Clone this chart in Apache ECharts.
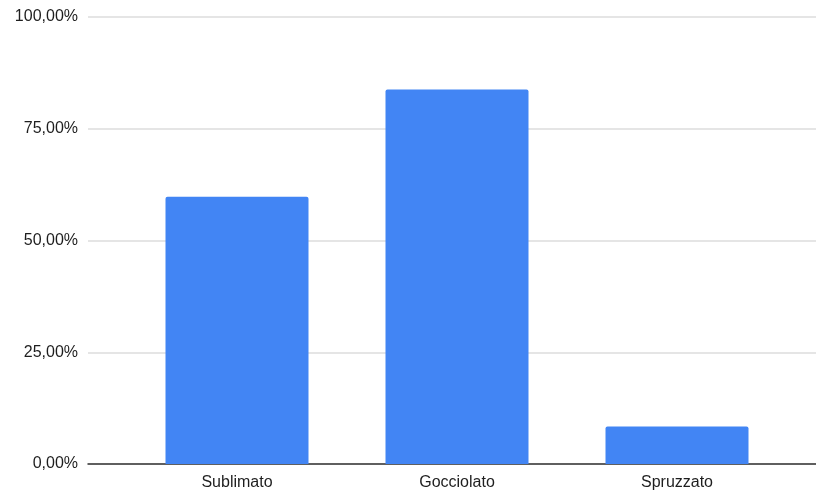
<!DOCTYPE html>
<html>
<head>
<meta charset="utf-8">
<style>
  html, body { margin: 0; padding: 0; background: #ffffff; }
  #chart { width: 816px; height: 492px; }
</style>
<script src="https://cdn.jsdelivr.net/npm/echarts@6/dist/echarts.min.js"></script>
</head>
<body>
<div id="chart"></div>
<script>
// Share of each technique, in percent
const categories = ['Sublimato', 'Gocciolato', 'Spruzzato'];
const values = [59.8, 83.8, 8.4];
const yTicks = [0, 25, 50, 75, 100];

const fmt = v => v.toFixed(2).replace('.', ',') + '%';
const font = 'Liberation Sans, Arial, Helvetica, sans-serif';

const chart = echarts.init(document.getElementById('chart'), null, { renderer: 'canvas' });

chart.setOption({
  backgroundColor: '#ffffff',
  animation: false,
  grid: [
    // frame: value labels, gridlines and baseline across the full width
    { left: 88, right: 0, top: 17, bottom: 28, containLabel: false },
    // plot band holding the bars
    { left: 127, right: 29, top: 17, bottom: 28, containLabel: false }
  ],
  xAxis: [
    {
      gridIndex: 0, type: 'category', data: [''],
      axisLine: { show: true, lineStyle: { color: '#333333', width: 1.5 } },
      axisTick: { show: false }, axisLabel: { show: false }, splitLine: { show: false }
    },
    {
      gridIndex: 1, type: 'category', data: categories,
      axisLine: { show: false }, axisTick: { show: false },
      axisLabel: { color: '#1e1e1e', fontFamily: font, fontSize: 16, margin: 11 }
    }
  ],
  yAxis: [
    {
      gridIndex: 0, type: 'value', min: yTicks[0], max: yTicks[yTicks.length - 1], interval: 25,
      axisLine: { show: false }, axisTick: { show: false },
      axisLabel: { color: '#1e1e1e', fontFamily: font, fontSize: 16, margin: 10, formatter: fmt },
      splitLine: { lineStyle: { color: '#dddddd', width: 1.5 } }
    },
    {
      gridIndex: 1, type: 'value', min: yTicks[0], max: yTicks[yTicks.length - 1], interval: 25,
      show: false, splitLine: { show: false }
    }
  ],
  series: [
    {
      type: 'bar', xAxisIndex: 1, yAxisIndex: 1,
      data: values, barWidth: 143,
      itemStyle: { color: '#4285f4', borderRadius: [2, 2, 0, 0] }
    }
  ]
});
</script>
</body>
</html>
